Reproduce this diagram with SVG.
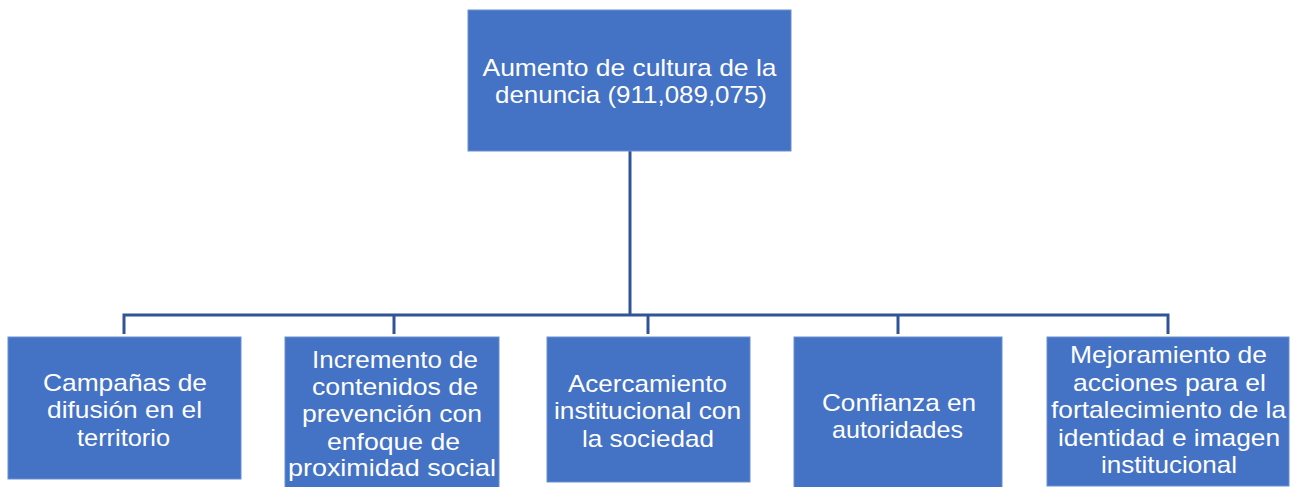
<svg xmlns="http://www.w3.org/2000/svg" width="1303" height="487" viewBox="0 0 1303 487">
<style>
.box{fill:#4472C4;stroke:#6A8FD0;stroke-width:1}
.t{font-family:"Liberation Sans",Arial,sans-serif;fill:#FFFFFF;text-anchor:middle;font-size:24px}
.conn{fill:none;stroke:#2F5597;stroke-width:3}
</style>
<rect width="1303" height="487" fill="#FFFFFF"/>
<g id="connectors">
<path class="conn" d="M630 151 V315"/>
<path class="conn" d="M124 334 V315 H1168 V334"/>
<path class="conn" d="M394 334 V315"/>
<path class="conn" d="M648 334 V315"/>
<path class="conn" d="M898 334 V315"/>
</g>
<g id="n0">
<rect class="box" x="468" y="10" width="323" height="141"/>
<text class="t" x="629.5" y="76" textLength="294" lengthAdjust="spacingAndGlyphs">Aumento de cultura de la</text>
<text class="t" x="631" y="103" textLength="272" lengthAdjust="spacingAndGlyphs">denuncia (911,089,075)</text>
</g>
<g id="n1">
<rect class="box" x="8" y="337" width="233" height="142"/>
<text class="t" x="125" y="391" textLength="164" lengthAdjust="spacingAndGlyphs">Campañas de</text>
<text class="t" x="124.5" y="418" textLength="155" lengthAdjust="spacingAndGlyphs">difusión en el</text>
<text class="t" x="123.5" y="446" textLength="93" lengthAdjust="spacingAndGlyphs">territorio</text>
</g>
<g id="n2">
<rect class="box" x="285" y="337" width="214" height="152"/>
<text class="t" x="395" y="368" textLength="166" lengthAdjust="spacingAndGlyphs">Incremento de</text>
<text class="t" x="395" y="395" textLength="166" lengthAdjust="spacingAndGlyphs">contenidos de</text>
<text class="t" x="392" y="422" textLength="180" lengthAdjust="spacingAndGlyphs">prevención con</text>
<text class="t" x="393.5" y="450" textLength="133" lengthAdjust="spacingAndGlyphs">enfoque de</text>
<text class="t" x="392" y="476" textLength="208" lengthAdjust="spacingAndGlyphs">proximidad social</text>
</g>
<g id="n3">
<rect class="box" x="547" y="337" width="203" height="145"/>
<text class="t" x="647.5" y="392" textLength="159" lengthAdjust="spacingAndGlyphs">Acercamiento</text>
<text class="t" x="647.5" y="419" textLength="187" lengthAdjust="spacingAndGlyphs">institucional con</text>
<text class="t" x="648" y="447" textLength="132" lengthAdjust="spacingAndGlyphs">la sociedad</text>
</g>
<g id="n4">
<rect class="box" x="794" y="337" width="208" height="152"/>
<text class="t" x="899" y="411" textLength="154" lengthAdjust="spacingAndGlyphs">Confianza en</text>
<text class="t" x="897.5" y="438" textLength="131" lengthAdjust="spacingAndGlyphs">autoridades</text>
</g>
<g id="n5">
<rect class="box" x="1047" y="337" width="242" height="149"/>
<text class="t" x="1168.5" y="363" textLength="197" lengthAdjust="spacingAndGlyphs">Mejoramiento de</text>
<text class="t" x="1169.5" y="391" textLength="193" lengthAdjust="spacingAndGlyphs">acciones para el</text>
<text class="t" x="1168.5" y="418" textLength="235" lengthAdjust="spacingAndGlyphs">fortalecimiento de la</text>
<text class="t" x="1169" y="446" textLength="222" lengthAdjust="spacingAndGlyphs">identidad e imagen</text>
<text class="t" x="1169" y="473" textLength="136" lengthAdjust="spacingAndGlyphs">institucional</text>
</g>
</svg>
